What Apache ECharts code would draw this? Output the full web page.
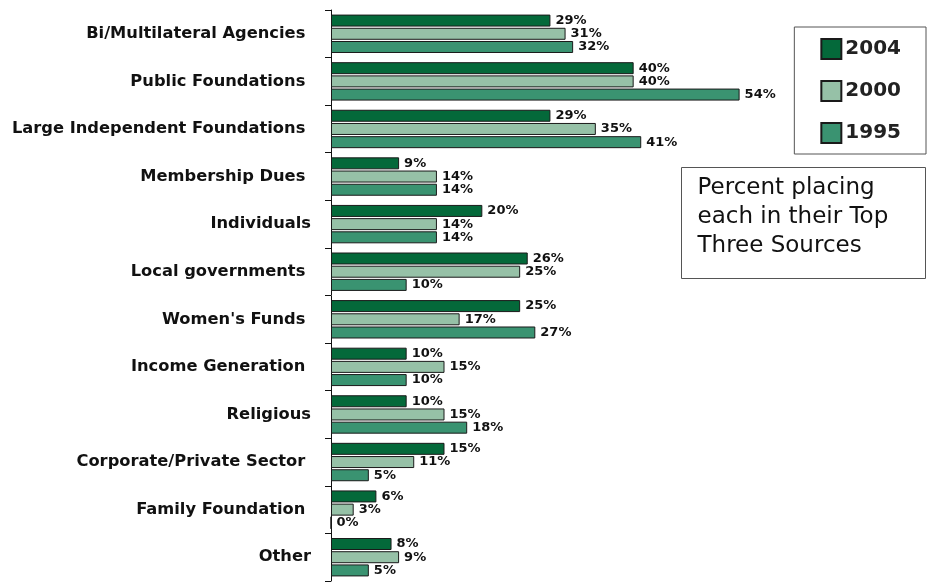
<!DOCTYPE html>
<html>
<head>
<meta charset="utf-8">
<script src="https://cdn.jsdelivr.net/npm/echarts@6/dist/echarts.min.js"></script>
<style>
  html, body { margin: 0; padding: 0; background: #fff; }
  #chart { width: 927px; height: 582px; }
</style>
</head>
<body>
<div id="chart"></div>
<script>
// funding sources, top to bottom
const categories = [
  'Bi/Multilateral Agencies ', 'Public Foundations ', 'Large Independent Foundations ',
  'Membership Dues ', 'Individuals', 'Local governments ', "Women's Funds ",
  'Income Generation ', 'Religious', 'Corporate/Private Sector ', 'Family Foundation ', 'Other'
];
const years = ['2004', '2000', '1995'];
const values2004 = [29, 40, 29, 9, 20, 26, 25, 10, 10, 15, 6, 8];
const values2000 = [31, 40, 35, 14, 14, 25, 17, 15, 15, 11, 3, 9];
const values1995 = [32, 54, 41, 14, 14, 10, 27, 10, 18, 5, 0, 5];
const colors = ['#04693A', '#96C1A7', '#3A9371'];
const noteLines = ['Percent placing', 'each in their Top', 'Three Sources'];

const chart = echarts.init(document.getElementById('chart'));

function makeSeries(name, data, color) {
  return {
    name: name,
    type: 'bar',
    data: data,
    barWidth: 12,
    barGap: '10%',
    itemStyle: { color: color, borderColor: '#1a1a1a', borderWidth: 1 },
    label: {
      show: true,
      position: 'right',
      distance: 5,
      formatter: '{c}%',
      fontFamily: 'DejaVu Sans',
      fontWeight: 'bold',
      fontSize: 13,
      color: '#111'
    },
    animation: false
  };
}

chart.setOption({
  backgroundColor: '#fff',
  grid: { left: 331, right: 142, top: 10, bottom: 1, containLabel: false },
  legend: {
    data: years,
    orient: 'vertical',
    right: 1,
    top: 27,
    icon: 'rect',
    itemWidth: 20,
    itemHeight: 20,
    itemGap: 20,
    padding: [11, 25, 10, 26],
    borderColor: '#555',
    borderWidth: 1,
    textStyle: { fontFamily: 'DejaVu Sans', fontWeight: 'bold', fontSize: 20, color: '#222', padding: [0, 0, 0, -1] }
  },
  xAxis: {
    type: 'value',
    min: 0,
    max: 60,
    show: false
  },
  yAxis: {
    type: 'category',
    data: categories,
    inverse: true,
    axisLine: { show: true, lineStyle: { color: '#111', width: 1 } },
    axisTick: { show: true, length: 6, lineStyle: { color: '#111' } },
    axisLabel: {
      margin: 20,
      fontFamily: 'DejaVu Sans',
      fontWeight: 'bold',
      fontSize: 16.3,
      color: '#111'
    }
  },
  graphic: [{
    type: 'group',
    left: 681,
    top: 167,
    children: [{
      type: 'rect',
      shape: { x: 0, y: 0, width: 244, height: 111 },
      style: { fill: '#fff', stroke: '#555', lineWidth: 1 }
    }, {
      type: 'text',
      x: 16,
      y: 6,
      style: {
        text: noteLines.join('\n'),
        fontFamily: 'DejaVu Sans',
        fontSize: 23,
        lineHeight: 29,
        fill: '#111'
      }
    }]
  }],
  series: [
    makeSeries(years[0], values2004, colors[0]),
    makeSeries(years[1], values2000, colors[1]),
    makeSeries(years[2], values1995, colors[2])
  ]
});
</script>
</body>
</html>
